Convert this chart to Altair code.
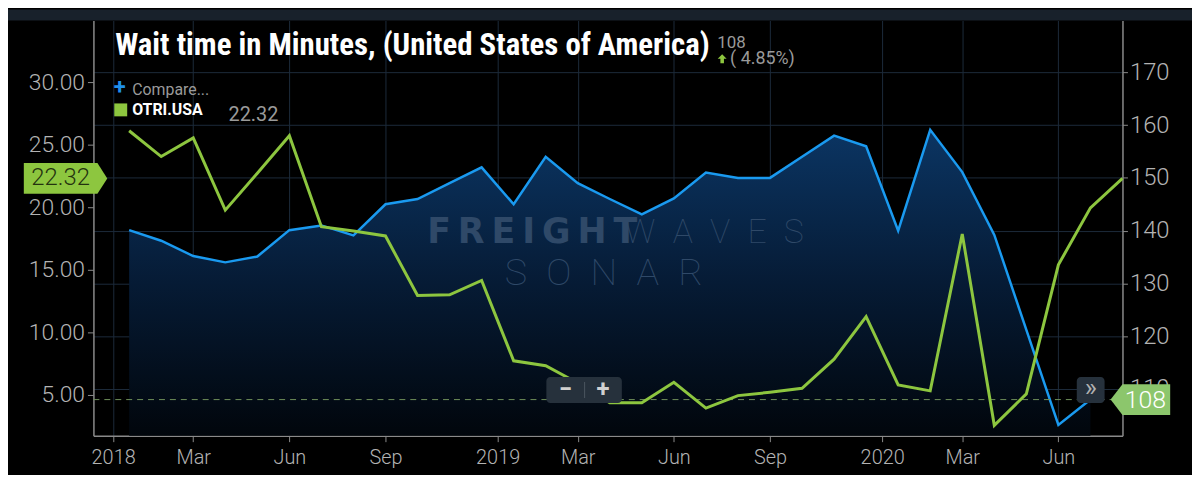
import json
import altair as alt
import pandas as pd

# ---------------- data ----------------
months = ["2018-01", "2018-02", "2018-03", "2018-04", "2018-05", "2018-06",
          "2018-07", "2018-08", "2018-09", "2018-10", "2018-11", "2018-12",
          "2019-01", "2019-02", "2019-03", "2019-04", "2019-05", "2019-06",
          "2019-07", "2019-08", "2019-09", "2019-10", "2019-11", "2019-12",
          "2020-01", "2020-02", "2020-03", "2020-04", "2020-05", "2020-06",
          "2020-07", "2020-08"]
otri_usa = [26.14, 24.07, 25.56, 19.78, 22.74, 25.74, 18.45, 18.10, 17.71,
            12.94, 13.00, 14.15, 7.71, 7.31, 5.93, 4.34, 4.34, 5.99, 3.92,
            4.92, 5.19, 5.51, 7.84, 11.24, 5.78, 5.30, 17.87, 2.54, 5.06,
            15.40, 19.96, 22.32]
wait_time = [140.1, 138.1, 135.2, 134.0, 135.1, 140.1, 141.0, 139.1, 145.0,
             146.0, 149.0, 152.0, 145.0, 154.0, 149.0, 146.0, 143.1, 146.1,
             151.0, 150.0, 150.0, 154.0, 158.0, 156.0, 140.0, 159.1, 151.1,
             139.2, 121.2, 103.2, 108.0, None]
tick_months = ["2018-01", "2018-03", "2018-06", "2018-09", "2019-01", "2019-03",
               "2019-06", "2019-09", "2020-01", "2020-03", "2020-06"]
tick_labels = ["2018", "Mar", "Jun", "Sep", "2019", "Mar", "Jun", "Sep",
               "2020", "Mar", "Jun"]
left_ticks = [5, 10, 15, 20, 25, 30]
right_ticks = [110, 120, 130, 140, 150, 160, 170]

title_text = "Wait time in Minutes, (United States of America)"
change_text = "( 4.85%)"
series_name = "OTRI.USA"

# ---------------- layout / style ----------------
W, H = 1036, 418
GRID = "#1c2a3a"
AXC = "#8a8a8a"
LAB = "#b3b3b3"
GREEN = "#8dc63f"
BLUE = "#1a9af0"
GRAY_TXT = "#9a9a9a"

df = pd.DataFrame({"month": months, "idx": list(range(len(months))),
                   "otri": otri_usa, "wait": wait_time})
tick_pos = [months.index(m) - (0.5 if lab.isdigit() else 0.0)
            for m, lab in zip(tick_months, tick_labels)]
label_expr = "%s[indexof(%s, datum.value)]" % (json.dumps(tick_labels), json.dumps(tick_pos))

YL_DOM = [1.71, 34.97]
YR_DOM = [101.16, 179.82]
x_scale = alt.Scale(domain=[-1.115, 31.0], nice=False, zero=False)
yl_scale = alt.Scale(domain=YL_DOM, nice=False, zero=False)
yr_scale = alt.Scale(domain=YR_DOM, nice=False, zero=False)

x_enc = alt.X("idx:Q", scale=x_scale, title=None,
              axis=alt.Axis(values=tick_pos, labelExpr=label_expr, grid=True,
                            gridColor=GRID, gridWidth=1, domainColor=AXC,
                            domainWidth=1.5, tickColor=AXC, tickSize=6,
                            labelColor=LAB, labelFont="Roboto", labelFontWeight=300,
                            labelFontSize=20, labelPadding=6, labelFlush=False,
                            labelOverlap=False))

right_axis = alt.Axis(orient="right", values=right_ticks, format="d", grid=True,
                      gridColor=GRID, gridWidth=1, domainColor=AXC, domainWidth=1.5,
                      tickColor=AXC, tickSize=5, labelColor=LAB, labelFont="Roboto",
                      labelFontWeight=300, labelFontSize=24, labelPadding=2,
                      title=None, labelOverlap=False)
left_axis = alt.Axis(orient="left", values=left_ticks, format=".2f", grid=False,
                     domainColor=AXC, domainWidth=1.5, tickColor=AXC, tickSize=6,
                     labelColor=LAB, labelFont="Roboto", labelFontWeight=300,
                     labelFontSize=23, labelPadding=3, title=None, labelOverlap=False)

base = alt.Chart(df)
one = alt.Data(values=[{"a": 1}])


def txt(text, x, y, size, color, weight="normal", font="Roboto", align="left",
        baseline="alphabetic", opacity=1.0):
    return alt.Chart(one).mark_text(
        text=text, font=font, fontSize=size, fontWeight=weight, color=color,
        align=align, baseline=baseline, opacity=opacity
    ).encode(x=alt.value(x), y=alt.value(y))


def box(x, x2, y, y2, color, radius=0):
    return alt.Chart(one).mark_rect(color=color, cornerRadius=radius).encode(
        x=alt.value(x), x2=alt.value(x2), y=alt.value(y), y2=alt.value(y2))


layers = []
layers.append(box(-86, 1106, -11, 0, "#18212b"))

gradient = alt.Gradient(
    gradient="linear",
    stops=[alt.GradientStop(color="#0b3563", offset=0),
           alt.GradientStop(color="#061b35", offset=0.5),
           alt.GradientStop(color="#01060c", offset=1)],
    x1=0, x2=0, y1=0, y2=1)

layers.append(base.transform_filter("isValid(datum.wait)").mark_area(
    color=gradient, opacity=1).encode(
    x=x_enc, y=alt.Y("wait:Q", scale=yr_scale, axis=right_axis),
    y2=alt.datum(YR_DOM[0])))

wm_color = "#2f4968"
layers += [
    txt("F\u2009R\u2009E\u2009I\u2009G\u2009H\u2009T", 336, 224, 35, wm_color,
        weight="bold", font="DejaVu Sans"),
    txt("W\u2002A\u2002V\u2002E\u2002S", 535, 224, 34, wm_color, weight=100),
    txt("S\u2002O\u2002N\u2002A\u2002R", 414, 266, 38, wm_color, weight=100),
]

layers.append(base.transform_filter("isValid(datum.wait)").mark_line(
    color=BLUE, strokeWidth=2.5).encode(
    x=x_enc, y=alt.Y("wait:Q", scale=yr_scale, axis=None)))

last_wait = [v for v in wait_time if v is not None][-1]
layers.append(alt.Chart(alt.Data(values=[{"v": last_wait}])).mark_rule(
    color="#6f8f5a", strokeDash=[6, 5], strokeWidth=1).encode(
    y=alt.Y("v:Q", scale=yr_scale, axis=None), x=alt.value(0), x2=alt.value(W)))

layers.append(base.mark_line(color=GREEN, strokeWidth=3).encode(
    x=x_enc, y=alt.Y("otri:Q", scale=yl_scale, axis=left_axis)))

# header / legend
arrow_path = "M0,-1 L1,0 L0.4,0 L0.4,1 L-0.4,1 L-0.4,0 L-1,0 Z"
layers += [
    txt(title_text, 22, 35, 31, "#ffffff", weight="bold",
        font="Roboto Condensed, Liberation Sans Narrow, Arial Narrow, DejaVu Sans Condensed, sans-serif"),
    alt.Chart(alt.Data(values=[{"v": last_wait}])).mark_text(
        font="Roboto", fontSize=17, color=GRAY_TXT, align="left").encode(
        x=alt.value(628), y=alt.value(22.5), text=alt.Text("v:Q", format="d")),
    alt.Chart(one).mark_point(shape=arrow_path, filled=True, size=80, color=GREEN,
                              opacity=1).encode(x=alt.value(633), y=alt.value(38.5)),
    txt(change_text, 641, 43.5, 18, GRAY_TXT),
    txt("+", 26.5, 67, 22, "#1f8fea", weight="bold", align="center", baseline="middle"),
    txt("Compare...", 39, 75, 16, GRAY_TXT),
    alt.Chart(one).mark_square(color=GREEN, size=169, opacity=1).encode(
        x=alt.value(27.5), y=alt.value(90)),
    txt(series_name, 39, 95.5, 16, "#ffffff", weight="bold"),
    alt.Chart(alt.Data(values=[{"v": otri_usa[-1]}])).mark_text(
        font="Roboto", fontSize=20, color=GRAY_TXT, align="left").encode(
        x=alt.value(136), y=alt.value(95.5), text=alt.Text("v:Q", format=".2f")),
]

# zoom controls
layers += [
    box(456, 532, 359, 385, "#26313c", radius=4),
    txt("\u2212", 475, 372, 24, "#d0d0d0", weight="bold", align="center", baseline="middle"),
    txt("+", 513, 372, 24, "#d0d0d0", weight="bold", align="center", baseline="middle"),
    box(494, 495, 364, 380, "#4a5560"),
    box(990, 1018, 359, 385, "#26313c", radius=4),
    txt("\u00bb", 1004, 370, 26, "#b0b0b0", align="center", baseline="middle"),
]

# value tags
left_tag_path = "M -4.52 -1 L 0.26 -1 L 0.9 0 L 0.26 1 L -4.52 1 Z"
right_tag_path = "M -0.77 0 L 0 -1 L 3.1 -1 L 3.1 1 L 0 1 Z"
ltag_data = alt.Data(values=[{"v": otri_usa[-1]}])
rtag_data = alt.Data(values=[{"v": last_wait}])
layers += [
    alt.Chart(ltag_data).mark_point(shape=left_tag_path, filled=True, size=961,
                                    color=GREEN, opacity=1).encode(
        x=alt.value(0), y=alt.Y("v:Q", scale=yl_scale, axis=None)),
    alt.Chart(ltag_data).mark_text(font="Roboto", fontSize=24, fontWeight=300,
                                   color="#24320f", align="center", baseline="middle").encode(
        x=alt.value(-33), y=alt.Y("v:Q", scale=yl_scale, axis=None),
        text=alt.Text("v:Q", format=".2f")),
    alt.Chart(rtag_data).mark_point(shape=right_tag_path, filled=True, size=961,
                                    color="#8cc66c", opacity=1).encode(
        x=alt.value(1036), y=alt.Y("v:Q", scale=yr_scale, axis=None)),
    alt.Chart(rtag_data).mark_text(font="Roboto", fontSize=25, fontWeight=300,
                                   color="#ffffff", align="center", baseline="middle").encode(
        x=alt.value(1059), y=alt.Y("v:Q", scale=yr_scale, axis=None),
        text=alt.Text("v:Q", format="d")),
]

chart = alt.layer(*layers).resolve_scale(y="independent").properties(
    width=W, height=H,
    padding={"left": 86, "top": 11, "right": 70, "bottom": 38},
    autosize=alt.AutoSizeParams(type="none"),
    background="#000000",
).configure_view(stroke=None)

chart.save("out.html", embed_options={"renderer": "svg", "actions": False})
